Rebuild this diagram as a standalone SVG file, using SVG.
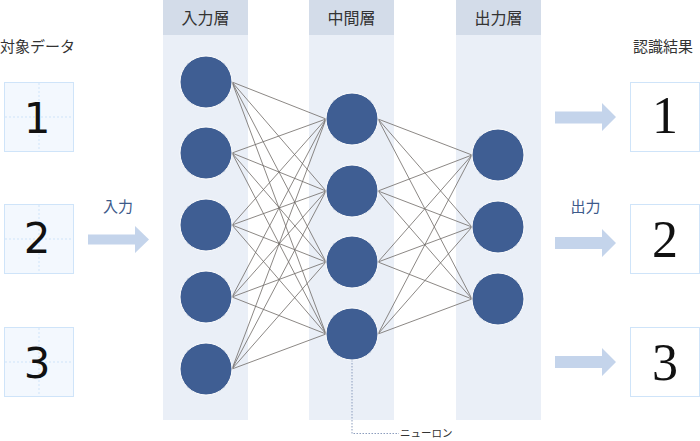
<svg xmlns="http://www.w3.org/2000/svg" width="700" height="441" viewBox="0 0 700 441">
<defs>
<style>
.col{fill:#eaeff7}
.hdr{fill:#d3dce9}
.ht{font-family:"Noto Sans CJK JP","Noto Sans",sans-serif;font-size:16px;fill:#333;text-anchor:middle}
.tt{font-family:"Noto Sans CJK JP","Noto Sans",sans-serif;font-size:15px;fill:#333}
.lbl{font-family:"Noto Sans CJK JP","Noto Sans",sans-serif;font-size:15px;fill:#3d5a8a;text-anchor:middle}
.neu{fill:#3f5e93;stroke:#ffffff;stroke-width:1}
.lnk{stroke:#6e6a66;stroke-width:0.8;fill:none}
.inbox{fill:#f3f8fe;stroke:#cfe4f9;stroke-width:1}
.guide{stroke:#cfe4f9;stroke-width:1;stroke-dasharray:2 2}
.outbox{fill:#ffffff;stroke:#cfe4f9;stroke-width:1}
.hand{font-family:"DejaVu Sans","Liberation Sans",sans-serif;font-size:42px;fill:#111;text-anchor:middle;font-weight:400}
.res{font-family:"Liberation Serif",serif;font-size:52px;fill:#111;text-anchor:middle}
.arr{fill:#c4d4eb}
</style>
</defs>
<rect width="700" height="441" fill="#ffffff"/>

<g id="columns">
<rect class="col" x="163" y="0" width="85" height="420"/>
<rect class="hdr" x="163" y="0" width="85" height="35"/>
<text class="ht" x="205.5" y="24">入力層</text>
<rect class="col" x="309" y="0" width="85" height="420"/>
<rect class="hdr" x="309" y="0" width="85" height="35"/>
<text class="ht" x="351.5" y="24">中間層</text>
<rect class="col" x="456" y="0" width="85" height="420"/>
<rect class="hdr" x="456" y="0" width="85" height="35"/>
<text class="ht" x="498.5" y="24">出力層</text>
</g>

<g id="titles">
<text class="tt" x="0" y="52">対象データ</text>
<text class="tt" x="633" y="52">認識結果</text>
<text class="lbl" x="118" y="212">入力</text>
<text class="lbl" x="585.5" y="212">出力</text>
</g>

<g id="connectors">
<g id="in-mid">
<path class="lnk" d="M232,82 L326,119 M232,82 L326,191 M232,82 L326,262 M232,82 L326,334"/>
<path class="lnk" d="M232,153 L326,119 M232,153 L326,191 M232,153 L326,262 M232,153 L326,334"/>
<path class="lnk" d="M232,225 L326,119 M232,225 L326,191 M232,225 L326,262 M232,225 L326,334"/>
<path class="lnk" d="M232,297 L326,119 M232,297 L326,191 M232,297 L326,262 M232,297 L326,334"/>
<path class="lnk" d="M232,369 L326,119 M232,369 L326,191 M232,369 L326,262 M232,369 L326,334"/>
</g>
<g id="mid-out">
<path class="lnk" d="M378,119 L472,155 M378,119 L472,227 M378,119 L472,299"/>
<path class="lnk" d="M378,191 L472,155 M378,191 L472,227 M378,191 L472,299"/>
<path class="lnk" d="M378,262 L472,155 M378,262 L472,227 M378,262 L472,299"/>
<path class="lnk" d="M378,334 L472,155 M378,334 L472,227 M378,334 L472,299"/>
</g>
<path d="M352,360 L352,433.5 L399,433.5" fill="none" stroke="#8c9dbd" stroke-width="1" stroke-dasharray="1.5 1.5"/>
<path id="arrow-in" class="arr" d="M88,234.5 L135,234.5 L135,226 L149,239.5 L135,253 L135,244.5 L88,244.5 Z"/>
<path id="arrow-out1" class="arr" d="M555,111.5 L602,111.5 L602,103 L616,117 L602,131 L602,123.5 L555,123.5 Z"/>
<path id="arrow-out2" class="arr" d="M555,237 L602,237 L602,229 L616,243 L602,257 L602,249 L555,249 Z"/>
<path id="arrow-out3" class="arr" d="M555,356 L602,356 L602,348 L616,362 L602,376 L602,368 L555,368 Z"/>
</g>

<g id="input-neurons">
<circle class="neu" cx="206" cy="82" r="26"/>
<circle class="neu" cx="206" cy="153" r="26"/>
<circle class="neu" cx="206" cy="225" r="26"/>
<circle class="neu" cx="206" cy="297" r="26"/>
<circle class="neu" cx="206" cy="369" r="26"/>
</g>
<g id="hidden-neurons">
<circle class="neu" cx="352" cy="119" r="26"/>
<circle class="neu" cx="352" cy="191" r="26"/>
<circle class="neu" cx="352" cy="262" r="26"/>
<circle class="neu" cx="352" cy="334" r="26"/>
</g>
<g id="output-neurons">
<circle class="neu" cx="498" cy="155" r="26"/>
<circle class="neu" cx="498" cy="227" r="26"/>
<circle class="neu" cx="498" cy="299" r="26"/>
</g>

<g id="neuron-label">
<text x="400" y="437" font-family="'Noto Sans CJK JP','Noto Sans',sans-serif" font-size="10.5" fill="#333">ニューロン</text>
</g>

<g id="input-data-1">
<rect class="inbox" x="4.5" y="82.5" width="69" height="69"/>
<path class="guide" d="M39,83 V151 M5,117 H73"/>
<text class="hand" x="37" y="133">1</text>
</g>
<g id="input-data-2">
<rect class="inbox" x="4.5" y="204.5" width="69" height="69"/>
<path class="guide" d="M39,205 V273 M5,239 H73"/>
<text class="hand" x="37" y="253">2</text>
</g>
<g id="input-data-3">
<rect class="inbox" x="4.5" y="327.5" width="69" height="69"/>
<path class="guide" d="M39,328 V396 M5,362 H73"/>
<text class="hand" x="37" y="378">3</text>
</g>

<g id="result-1">
<rect class="outbox" x="630.5" y="82.5" width="69" height="69"/>
<text class="res" x="665" y="133">1</text>
</g>
<g id="result-2">
<rect class="outbox" x="630.5" y="204.5" width="69" height="69"/>
<text class="res" x="665" y="257">2</text>
</g>
<g id="result-3">
<rect class="outbox" x="630.5" y="327.5" width="69" height="69"/>
<text class="res" x="665" y="380">3</text>
</g>
</svg>
